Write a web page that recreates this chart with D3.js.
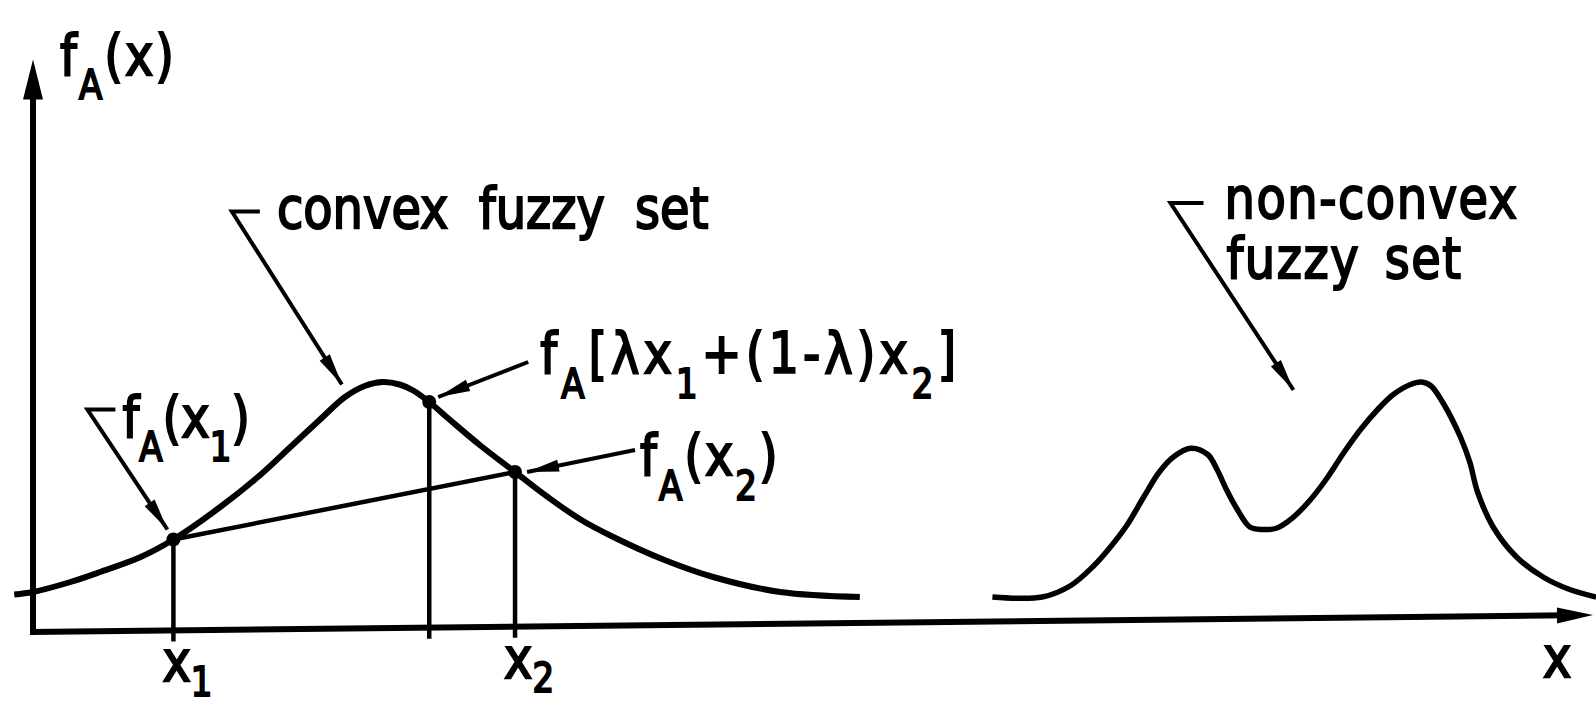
<!DOCTYPE html>
<html>
<head>
<meta charset="utf-8">
<script src="https://cdn.jsdelivr.net/npm/d3@7"></script>
<style>
  body { margin: 0; background: #fff; }
  svg { display: block; }
  text { font-family: "DejaVu Sans", sans-serif; fill: #000; stroke: #000; stroke-width: 1.8px; }
</style>
</head>
<body>
<script>
// convex fuzzy set (x in axis units, f = membership)
var convexX = [-1.2, 0, 2.4, 4.3, 6.9, 9.0, 12.0, 14.6, 16.5, 18.4, 20.0, 21.3, 22.4, 23.5, 24.4, 25.4, 26.7, 28.7, 30.9, 33.0, 35.1, 37.2, 40.4, 43.6, 47.9, 53.0];
var convexF = [0.15, 0.16, 0.20, 0.24, 0.30, 0.37, 0.50, 0.63, 0.74, 0.85, 0.94, 0.985, 1.0, 0.99, 0.965, 0.92, 0.85, 0.745, 0.64, 0.54, 0.45, 0.38, 0.29, 0.22, 0.16, 0.14];

// non-convex fuzzy set
var nonconvexX = [61.5, 64.7, 66.5, 68.0, 69.0, 70.1, 71.2, 72.2, 73.1, 74.2, 75.3, 75.9, 76.5, 77.2, 78.0, 78.8, 79.7, 80.8, 81.9, 83.0, 84.0, 85.1, 86.2, 87.2, 88.3, 89.0, 89.6, 90.4, 91.5, 92.1, 92.6, 93.6, 95.1, 96.8, 98.5, 100.2];
var nonconvexF = [0.14, 0.14, 0.185, 0.265, 0.335, 0.425, 0.54, 0.64, 0.70, 0.735, 0.71, 0.65, 0.57, 0.49, 0.42, 0.41, 0.415, 0.46, 0.53, 0.62, 0.715, 0.81, 0.89, 0.95, 0.99, 1.0, 0.985, 0.915, 0.78, 0.68, 0.56, 0.42, 0.30, 0.22, 0.17, 0.14];

// x1, lambda*x1+(1-lambda)*x2, x2  (lambda = 0.25)
var markX = [9.0, 25.4, 30.9];
var markF = [0.37, 0.92, 0.64];
var tickLabels = ["x_1", "", "x_2"];

var axisTitleX = "x",
	axisTitleY = "f_A(x)";

var width = 1596,
	height = 710,
	xMax = 100,
	yTop = 2.29,
	axisRise = 0.068;   // the hand drawn x axis climbs a little to the right

var x = d3.scaleLinear().domain([0, xMax]).range([33, 1593]);
var y = d3.scaleLinear().domain([0, 1]).range([632, 382]);

var svg = d3.select("body").append("svg")
			.attr("width", width)
			.attr("height", height);

svg.append("rect")
	.attr("width", width)
	.attr("height", height)
	.attr("fill", "#fff");

var line = d3.line()
	.x(function(d){ return x(d[0]); })
	.y(function(d){ return y(d[1]); })
	.curve(d3.curveCatmullRom.alpha(0.5));

function pt(u, v){
	return [x(u), y(v)];
}

function head(from, to, len, half){
	var dx = to[0] - from[0],
		dy = to[1] - from[1],
		l = Math.sqrt(dx*dx + dy*dy),
		ux = dx / l, uy = dy / l,
		bx = to[0] - ux*len, by = to[1] - uy*len;
	return "M" + to[0] + "," + to[1] +
		"L" + (bx - uy*half) + "," + (by + ux*half) +
		"L" + (bx + uy*half) + "," + (by - ux*half) + "Z";
}

// "f_A(x_1)" -> main / subscript pieces
function pieces(s){
	var out = [];
	for(var i = 0; i < s.length; i++){
		if(s[i] === "_"){
			out.push([s[i+1], true]);
			i++;
		}else if(out.length && !out[out.length-1][1]){
			out[out.length-1][0] += s[i];
		}else{
			out.push([s[i], false]);
		}
	}
	return out;
}

function label(px, py, s, opts){
	opts = opts || {};
	var sub = opts.sub || 21;
	var g = svg.append("g")
		.attr("transform", "translate(" + px + "," + py + ") scale(1,1.18)");
	var t = g.append("text")
		.attr("font-size", 48)
		.attr("letter-spacing", opts.ls || 0)
		.attr("word-spacing", opts.ws || 0);
	var down = false;
	pieces(s).forEach(function(p){
		var dy = 0;
		if(p[1] && !down) dy = sub;
		if(!p[1] && down) dy = -sub;
		down = p[1];
		t.append("tspan")
			.attr("dy", dy)
			.attr("font-size", p[1] ? 34 : 48)
			.text(p[0]);
	});
}

function callout(tail, hook, tip){
	var pts = hook ? [[tail[0] + hook, tail[1]], tail, tip] : [tail, tip];
	svg.append("path")
		.attr("d", d3.line()(pts))
		.attr("fill", "none")
		.attr("stroke", "#000")
		.attr("stroke-width", 4)
		.attr("stroke-linejoin", "miter");
	svg.append("path")
		.attr("d", head(tail, tip, 32, 6))
		.attr("fill", "#000");
}

// axes
var origin = pt(0, 0),
	yEnd = pt(0, yTop),
	xEnd = pt(xMax, axisRise);

svg.append("line")
	.attr("x1", origin[0]).attr("y1", origin[1] + 3)
	.attr("x2", yEnd[0]).attr("y2", yEnd[1] + 30)
	.attr("stroke", "#000").attr("stroke-width", 6);
svg.append("path").attr("d", head(origin, yEnd, 40, 10)).attr("fill", "#000");

svg.append("line")
	.attr("x1", origin[0] - 3).attr("y1", origin[1])
	.attr("x2", xEnd[0] - 25).attr("y2", xEnd[1] + 0.3)
	.attr("stroke", "#000").attr("stroke-width", 6);
svg.append("path").attr("d", head(origin, xEnd, 36, 8)).attr("fill", "#000");

function axisY(u){
	return y(axisRise * u / xMax);
}

// curves
svg.append("path")
	.datum(d3.zip(convexX, convexF))
	.attr("d", line)
	.attr("fill", "none")
	.attr("stroke", "#000")
	.attr("stroke-width", 6);

svg.append("path")
	.datum(d3.zip(nonconvexX, nonconvexF))
	.attr("d", line)
	.attr("fill", "none")
	.attr("stroke", "#000")
	.attr("stroke-width", 5.5);

// chord between f(x1) and f(x2)
svg.append("line")
	.attr("x1", x(markX[0])).attr("y1", y(markF[0]))
	.attr("x2", x(markX[2])).attr("y2", y(markF[2]))
	.attr("stroke", "#000").attr("stroke-width", 4.5);

// drop lines and points
svg.selectAll(".drop")
	.data(d3.zip(markX, markF))
	.enter()
	.append("line")
	.attr("class", "drop")
	.attr("x1", function(d){ return x(d[0]); })
	.attr("y1", function(d){ return y(d[1]); })
	.attr("x2", function(d){ return x(d[0]); })
	.attr("y2", function(d){ return axisY(d[0]) + 11; })
	.attr("stroke", "#000")
	.attr("stroke-width", 4.5);

svg.selectAll(".mark")
	.data(d3.zip(markX, markF))
	.enter()
	.append("circle")
	.attr("class", "mark")
	.attr("cx", function(d){ return x(d[0]); })
	.attr("cy", function(d){ return y(d[1]); })
	.attr("r", 7)
	.attr("fill", "#000");

// tick labels
markX.forEach(function(m, i){
	if(tickLabels[i]) label(x(m) - 11, axisY(m) + 51, tickLabels[i], {sub: 12});
});
label(x(xMax) - 50, axisY(xMax) + 62, axisTitleX);
label(yEnd[0] + 27, yEnd[1] + 15, axisTitleY, {ls: 2});

// callouts on the marked points
var p1 = pt(markX[0], markF[0]),
	pl = pt(markX[1], markF[1]),
	p2 = pt(markX[2], markF[2]);

callout([p1[0] - 86, p1[1] - 130], 28, [p1[0] - 6, p1[1] - 10]);
label(p1[0] - 51, p1[1] - 103, "f_A(x_1)");

callout([pl[0] + 99, pl[1] - 40], 0, [pl[0] + 9, pl[1] - 5]);
label(pl[0] + 111, pl[1] - 29, "f_A[λx_1+(1-λ)x_2]", {ls: 4});

callout([p2[0] + 120, p2[1] - 22], 0, [p2[0] + 12, p2[1]]);
label(p2[0] + 125, p2[1] + 3, "f_A(x_2)", {ls: 2});

// set labels
var cv = pt(19.8, 0.99);
callout([cv[0] - 110, cv[1] - 173], 28, cv);
label(cv[0] - 65, cv[1] - 157, "convex fuzzy set", {ws: 15});

var nc = pt(80.8, 0.968);
callout([nc[0] - 123, nc[1] - 187], 33, nc);
label(nc[0] - 69, nc[1] - 172, "non-convex", {ls: 1.5});
label(nc[0] - 67, nc[1] - 112, "fuzzy set", {ls: 1.5, ws: 8});
</script>
</body>
</html>
